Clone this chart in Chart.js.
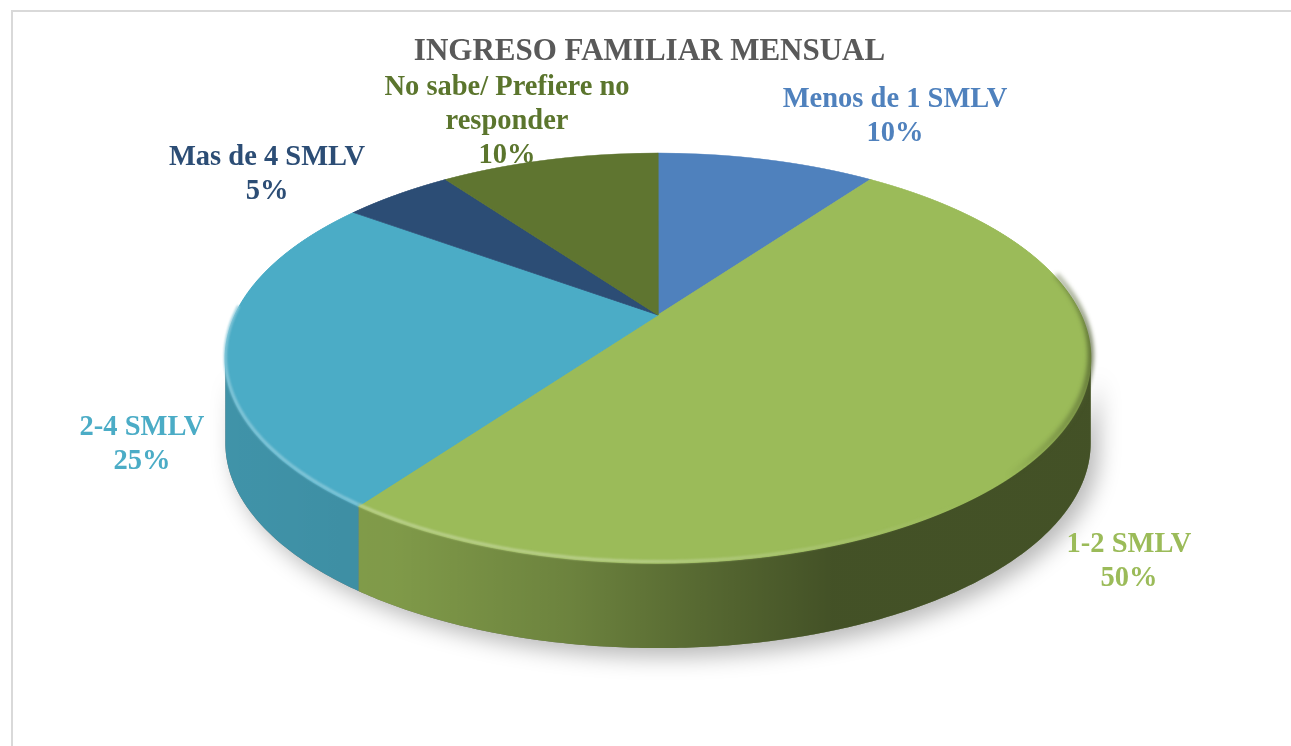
<!DOCTYPE html>
<html>
<head>
<meta charset="utf-8">
<script src="https://cdn.jsdelivr.net/npm/chart.js@4.4.0/dist/chart.umd.min.js"></script>
<style>
  html, body { margin: 0; padding: 0; background: #fff; overflow: hidden; }
  #frame { position: absolute; left: 11px; top: 10px; width: 1400px; height: 800px;
           border-top: 2px solid #d9d9d9; border-left: 2px solid #d9d9d9; }
  canvas { position: absolute; left: 0; top: 0; }
</style>
</head>
<body>
<div id="frame"></div>
<canvas id="c" width="1291" height="746"></canvas>
<script>
// data
const categories = ['Menos de 1 SMLV', '1-2 SMLV', '2-4 SMLV', 'Mas de 4 SMLV', 'No sabe/ Prefiere no responder'];
const percentages = [10, 50, 25, 5, 10];
const labelLines = [['Menos de 1 SMLV'], ['1-2 SMLV'], ['2-4 SMLV'], ['Mas de 4 SMLV'], ['No sabe/ Prefiere no', 'responder']];

// styles
const topColors = ['#4F81BD', '#9BBB59', '#4BACC6', '#2C4D75', '#5F7530'];
const labelColors = ['#4F81BD', '#9BBB59', '#4BACC6', '#2C4D75', '#5B752D'];

// tilted pie seen in perspective: centre, half width, half height, tilt, wall depth
const CX = 658, YC = 315, A = 423, B = 196, K = 0.21, DEPTH = 85;
// where Excel placed each label (first baseline)
const labelAnchors = [[895, 107], [1129, 552], [142, 435], [267, 165], [507, 95]];
const LINE_H = 34;
const FONT = '"Liberation Serif", "Times New Roman", serif';

function shade(hex, f, mix, alpha) {
  let n = parseInt(hex.slice(1), 16);
  let c = [(n >> 16) & 255, (n >> 8) & 255, n & 255];
  c = c.map(v => mix ? Math.round(v + (255 - v) * f) : Math.round(v * f));
  return 'rgba(' + c.join(',') + ',' + (alpha === undefined ? 1 : alpha) + ')';
}

// point of the rim for a chart angle, dy = 0 top rim, DEPTH bottom rim
function rim(a, dy) {
  const u = Math.cos(a), v = Math.sin(a), w = 1 - K * v;
  return [CX + A * u / w, YC + B * v / w + dy];
}

function rimLine(ctx, s, e, dy) {
  const n = Math.max(2, Math.ceil((e - s) / 0.01));
  for (let i = 0; i <= n; i++) {
    const p = rim(s + (e - s) * i / n, dy);
    i ? ctx.lineTo(p[0], p[1]) : ctx.moveTo(p[0], p[1]);
  }
}

function wallPath(ctx, s, e) {
  const n = Math.max(2, Math.ceil((e - s) / 0.01));
  ctx.beginPath();
  rimLine(ctx, s, e, 0);
  for (let i = n; i >= 0; i--) {
    const p = rim(s + (e - s) * i / n, DEPTH);
    ctx.lineTo(p[0], p[1]);
  }
  ctx.closePath();
}

// visible part of the wall lies between the two silhouette points
const FRONT_LO = Math.asin(K), FRONT_HI = Math.PI - Math.asin(K);
const XL = CX - A * 1.03, XR = CX + A * 1.03;

const pie3d = {
  id: 'pie3d',
  beforeDatasetsDraw(chart) {
    const ctx = chart.ctx;
    const arcs = chart.getDatasetMeta(0).data;

    // soft shadow under the wall
    ctx.save();
    ctx.shadowColor = 'rgba(0,0,0,0.28)';
    ctx.shadowBlur = 22;
    ctx.shadowOffsetX = 8;
    ctx.shadowOffsetY = 9;
    wallPath(ctx, FRONT_LO, FRONT_HI);
    ctx.fillStyle = '#777';
    ctx.fill();
    ctx.restore();

    arcs.forEach((a, i) => {
      const lo = Math.max(a.startAngle, FRONT_LO), hi = Math.min(a.endAngle, FRONT_HI);
      if (hi <= lo) return;
      ctx.save();
      wallPath(ctx, lo, hi);
      ctx.fillStyle = shade(topColors[i], 0.87);
      ctx.fill();
      const g = ctx.createLinearGradient(XL, 0, XR, 0);
      g.addColorStop(0, 'rgba(0,0,0,0.02)');
      g.addColorStop(0.2, 'rgba(0,0,0,0.06)');
      g.addColorStop(0.4, 'rgba(0,0,0,0.2)');
      g.addColorStop(0.55, 'rgba(0,0,0,0.36)');
      g.addColorStop(0.7, 'rgba(0,0,0,0.5)');
      g.addColorStop(1, 'rgba(0,0,0,0.5)');
      ctx.fillStyle = g;
      ctx.fill();
      ctx.restore();
    });

    // top face: the library's arcs, redrawn row by row with the perspective scale of that row
    const a0 = arcs[0];
    const r = a0.outerRadius;
    const yTop = Math.floor(YC - B / (1 + K)) - 2, yBot = Math.ceil(YC + B / (1 - K)) + 2;
    for (let y0 = yTop; y0 < yBot; y0++) {
      const t = y0 + 0.5 - YC;
      const v = t / (B + K * t);
      if (v < -1.02 || v > 1.02) continue;
      const s = 1 / (1 - K * v);
      ctx.save();
      ctx.beginPath();
      ctx.rect(0, y0, chart.width, 1);
      ctx.clip();
      ctx.translate(CX, y0 + 0.5);
      ctx.scale(A * s / r, B * s * s / r);
      ctx.translate(-a0.x, -(a0.y + v * r));
      arcs.forEach(a => a.draw(ctx));
      ctx.restore();
    }

    // bevel along the rim: light at the front and left, dark toward the right
    arcs.forEach((a, i) => {
      const c = topColors[i];
      const lo = Math.max(a.startAngle, FRONT_LO - 0.25), hi = Math.min(a.endAngle, FRONT_HI + 0.25);
      if (hi > lo) {
        ctx.save();
        ctx.beginPath();
        rimLine(ctx, lo, hi, -1.5);
        const g = ctx.createLinearGradient(XL, 0, XR, 0);
        g.addColorStop(0, shade(c, 0.35, true, 0.9));
        g.addColorStop(0.45, shade(c, 0.3, true, 1));
        g.addColorStop(0.7, shade(c, 0.25, true, 0.5));
        g.addColorStop(0.85, shade(c, 0.25, true, 0));
        ctx.strokeStyle = g;
        ctx.lineWidth = 3;
        ctx.filter = 'blur(1px)';
        ctx.stroke();
        ctx.restore();
      }
      const lo2 = Math.max(a.startAngle, -0.2), hi2 = Math.min(a.endAngle, 1.0);
      if (hi2 > lo2) {
        ctx.save();
        ctx.beginPath();
        rimLine(ctx, lo2, hi2, -3);
        const g = ctx.createLinearGradient(XL, 0, XR, 0);
        g.addColorStop(0.9, shade(c, 0.5, false, 0));
        g.addColorStop(0.985, shade(c, 0.5, false, 0.55));
        g.addColorStop(1, shade(c, 0.45, false, 0.75));
        ctx.strokeStyle = g;
        ctx.lineWidth = 6;
        ctx.filter = 'blur(2px)';
        ctx.stroke();
        ctx.restore();
      }
    });
    return false;
  },
  afterDraw(chart) {
    const ctx = chart.ctx;
    ctx.save();
    ctx.font = 'bold 28.5px ' + FONT;
    ctx.textAlign = 'center';
    ctx.textBaseline = 'alphabetic';
    labelLines.forEach((lines, i) => {
      const [x, y] = labelAnchors[i];
      ctx.fillStyle = labelColors[i];
      lines.concat([percentages[i] + '%']).forEach((txt, k) => ctx.fillText(txt, x, y + k * LINE_H));
    });
    ctx.restore();
  }
};

new Chart(document.getElementById('c'), {
  type: 'pie',
  data: {
    labels: categories,
    datasets: [{
      data: percentages,
      backgroundColor: topColors,
      borderColor: topColors,
      borderWidth: 1
    }]
  },
  options: {
    responsive: false,
    animation: false,
    devicePixelRatio: 1,
    layout: { padding: { left: 28, right: 20, top: 20, bottom: 20 } },
    plugins: {
      legend: { display: false },
      tooltip: { enabled: false },
      title: {
        display: true,
        text: 'INGRESO FAMILIAR MENSUAL',
        color: '#595959',
        font: { family: FONT, size: 31, weight: 'bold' },
        padding: { top: 13, bottom: 10 }
      }
    }
  },
  plugins: [pie3d]
});
</script>
</body>
</html>
